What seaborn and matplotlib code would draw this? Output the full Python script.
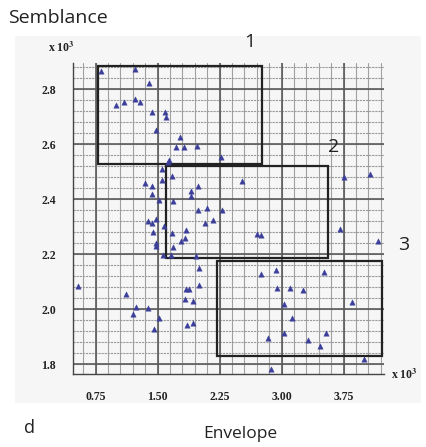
import matplotlib
matplotlib.use("Agg")
import matplotlib.pyplot as plt
import matplotlib.patches as mpatches
import numpy as np
import pandas as pd
import seaborn as sns

# ---- data (x10^3 units) ----
envelope = [0.814, 1.225, 1.398, 0.995, 1.096, 1.231, 1.286, 1.427, 1.588, 1.606,
            1.485, 1.769, 1.721, 1.818, 1.981, 2.269, 1.642, 1.624, 1.552, 1.555,
            1.679, 1.350, 1.427, 1.983, 1.900, 1.900, 1.437, 1.519, 1.681, 1.987,
            2.099, 2.277, 2.519, 3.752, 4.067, 1.382, 1.433, 1.479, 1.443, 1.576,
            1.669, 1.844, 1.830, 1.781, 1.483, 1.483, 1.685, 1.564, 1.667, 1.969,
            1.999, 2.078, 2.172, 0.540, 1.113, 2.001, 1.848, 1.878, 1.830, 1.933,
            1.235, 1.379, 1.197, 1.519, 1.459, 1.860, 1.930, 2.697, 2.745, 3.704,
            4.167, 2.749, 2.927, 3.511, 2.939, 3.100, 3.253, 3.846, 3.031, 3.120,
            3.031, 2.837, 3.535, 3.313, 3.462, 3.998, 2.870]
semblance = [2.867, 2.876, 2.823, 2.745, 2.755, 2.765, 2.754, 2.717, 2.716, 2.698,
             2.652, 2.628, 2.591, 2.590, 2.595, 2.554, 2.543, 2.537, 2.510, 2.472,
             2.486, 2.461, 2.450, 2.450, 2.432, 2.413, 2.421, 2.399, 2.394, 2.360,
             2.367, 2.362, 2.468, 2.480, 2.491, 2.322, 2.313, 2.330, 2.283, 2.303,
             2.279, 2.288, 2.258, 2.248, 2.242, 2.229, 2.226, 2.197, 2.197, 2.194,
             2.149, 2.315, 2.324, 2.084, 2.057, 2.089, 2.072, 2.072, 2.038, 2.030,
             2.010, 2.003, 1.983, 1.970, 1.930, 1.943, 1.951, 2.275, 2.272, 2.291,
             2.249, 2.130, 2.142, 2.136, 2.078, 2.076, 2.069, 2.027, 2.021, 1.969,
             1.912, 1.897, 1.915, 1.887, 1.867, 1.818, 1.784]

x_ticks = [0.75, 1.50, 2.25, 3.00, 3.75]
x_tick_labels = ["0.75", "1.50", "2.25", "3.00", "3.75"]
y_ticks = [1.8, 2.0, 2.2, 2.4, 2.6, 2.8]
y_tick_labels = ["1.8", "2.0", "2.2", "2.4", "2.6", "2.8"]

# cluster boxes: (x0, x1, y0, y1), label
box_labels = ["1", "2", "3"]
box_x0 = [0.781, 1.596, 2.220]
box_x1 = [2.764, 3.563, 4.208]
box_y0 = [2.528, 2.188, 1.829]
box_y1 = [2.886, 2.523, 2.175]

df = pd.DataFrame({"Envelope": envelope, "Semblance": semblance})

sns.set_style("white")
plt.rcParams["font.family"] = ["Open Sans", "DejaVu Sans"]
plt.rcParams["mathtext.fontset"] = "stix"

fig = plt.figure(figsize=(4.27, 4.47), dpi=100)
# faint background panel
bg = mpatches.Rectangle((0.035, 0.098), 0.95, 0.822, transform=fig.transFigure,
                        facecolor="#f6f6f6", edgecolor="none", zorder=-10)
fig.patches.append(bg)
ax = fig.add_axes([0.170, 0.163, 0.729, 0.696])
ax.set_zorder(1)
ax.set_facecolor("none")

ax.set_xlim(0.472, 4.236)
ax.set_ylim(1.764, 2.896)

# grid lines
minor_x = np.arange(0.15, 4.3, 0.15)
minor_y = np.arange(1.76, 2.92, 0.04)
for v in minor_x:
    if 0.472 <= v <= 4.236:
        ax.axvline(v, color="#a0a0a0", lw=0.8, zorder=1)
for v in minor_y:
    if 1.764 <= v <= 2.896:
        ax.axhline(v, color="#9a9a9a", lw=0.8, ls=(0, (2, 0.8)), zorder=1)
for v in x_ticks:
    ax.axvline(v, color="#5a5a5a", lw=1.2, zorder=1.5)
for v in y_ticks:
    ax.axhline(v, color="#5a5a5a", lw=1.2, zorder=1.5)

ax.set_xticks(x_ticks)
ax.set_xticklabels(x_tick_labels)
ax.set_yticks(y_ticks)
ax.set_yticklabels(y_tick_labels)
ax.set_xticks([v for v in minor_x if 0.472 <= v <= 4.236], minor=True)
ax.set_yticks([v for v in minor_y if 1.764 <= v <= 2.896], minor=True)
ax.tick_params(which="major", direction="out", length=6, width=1.0, color="#444444",
               labelsize=8.5, pad=6)
ax.tick_params(which="minor", direction="out", length=3, width=0.7, color="#888888")
for lab in ax.get_xticklabels() + ax.get_yticklabels():
    lab.set_fontfamily("Liberation Serif")
    lab.set_fontweight("bold")
    lab.set_color("#222222")

for s in ["top", "right"]:
    ax.spines[s].set_visible(False)
for s in ["left", "bottom"]:
    ax.spines[s].set_color("#444444")
    ax.spines[s].set_linewidth(1.0)

# boxes
for x0, x1, y0, y1 in zip(box_x0, box_x1, box_y0, box_y1):
    ax.add_patch(mpatches.Rectangle((x0, y0), x1 - x0, y1 - y0, fill=False,
                                    edgecolor="#222222", lw=1.6, zorder=3))

# points
sns.scatterplot(data=df, x="Envelope", y="Semblance", marker="^", s=15,
                color="#3b3f9a", edgecolor="#3b3f9a", linewidth=0.3, ax=ax, zorder=4)
ax.set_xlabel("")
ax.set_ylabel("")

# box labels (figure pixel positions)
W, H = 427, 447
label_px = [(250, 42), (334, 147), (404, 245)]
for lab, (px, py) in zip(box_labels, label_px):
    fig.text(px / W, 1 - py / H, lab, fontsize=14, ha="center", va="center", color="#222222",
             zorder=5)

# axis captions
fig.text(8 / W, 1 - 18 / H, "Semblance", fontsize=14, ha="left", va="center", color="#222222")
fig.text(240 / W, 1 - 434 / H, "Envelope", fontsize=12.5, ha="center", va="center", color="#222222")
fig.text(30 / W, 1 - 428 / H, "d", fontsize=13, ha="center", va="center", color="#222222")

# x10^3 multipliers
fig.text(48 / W, 1 - 48 / H, r"x 10$^{\mathbf{3}}$", fontsize=8.5, ha="left", va="center",
         family="Liberation Serif", fontweight="bold", color="#222222")
fig.text(391 / W, 1 - 375 / H, r"x 10$^{\mathbf{3}}$", fontsize=8.5, ha="left", va="center",
         family="Liberation Serif", fontweight="bold", color="#222222")

fig.savefig("out.png", dpi=100)
